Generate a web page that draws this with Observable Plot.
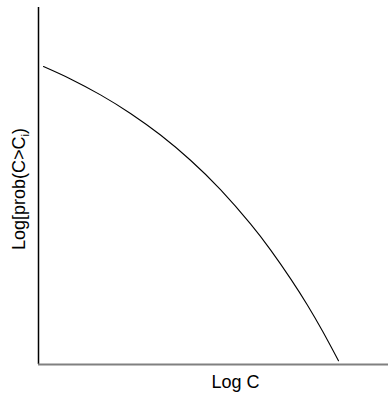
<!DOCTYPE html>
<html>
<head>
<meta charset="utf-8">
<script src="https://cdn.jsdelivr.net/npm/d3@7"></script>
<script src="https://cdn.jsdelivr.net/npm/@observablehq/plot@0.6"></script>
<style>
  html, body { margin: 0; padding: 0; background: #fff; }
  svg { display: block; }
</style>
</head>
<body>
<div id="chart"></div>
<script>
// Curve (arbitrary log units, axes 0..10)
const logC = [0.143, 0.914, 1.771, 2.629, 3.486, 4.343, 5.200, 6.057, 6.629, 7.200, 7.686, 8.114, 8.571];
const logProb = [8.347, 8.000, 7.553, 7.033, 6.427, 5.721, 4.897, 3.938, 3.211, 2.407, 1.662, 0.938, 0.107];
const xLabel = "Log C";
const yLabel = "Log[prob(C>Ci)";

const data = logC.map((x, i) => ({x, y: logProb[i]}));

const chart = Plot.plot({
  width: 388,
  height: 394,
  marginLeft: 38,
  marginRight: 0,
  marginTop: 7,
  marginBottom: 30,
  style: {fontFamily: "'Liberation Sans', Arial, sans-serif", background: "#fff"},
  x: {domain: [0, 10], axis: null},
  y: {domain: [0, 10], axis: null},
  marks: [
    Plot.ruleX([0], {stroke: "black", strokeWidth: 1.5}),
    Plot.ruleY([0], {stroke: "#808080", strokeWidth: 2}),
    Plot.line(data, {x: "x", y: "y", stroke: "black", strokeWidth: 1.1, curve: "natural"}),
    Plot.text([xLabel], {text: d => d, frameAnchor: "bottom", textAnchor: "middle", lineAnchor: "middle", dx: 22, dy: 18, fontSize: 18, fill: "black"}),
    Plot.text([yLabel], {text: d => d, frameAnchor: "left", textAnchor: "middle", lineAnchor: "middle", dx: -19, dy: 3, rotate: -90, fontSize: 18, fill: "black"})
  ]
});

document.getElementById("chart").appendChild(chart);

// add subscript i to the y label
d3.select(chart).selectAll("text").each(function() {
  const t = d3.select(this);
  if (t.text() === yLabel) {
    t.text(null);
    t.append("tspan").text("Log[prob(C>C");
    t.append("tspan").attr("font-size", 11).attr("dy", 4).text("i");
    t.append("tspan").attr("dy", -4).text(")");
  }
});
</script>
</body>
</html>
